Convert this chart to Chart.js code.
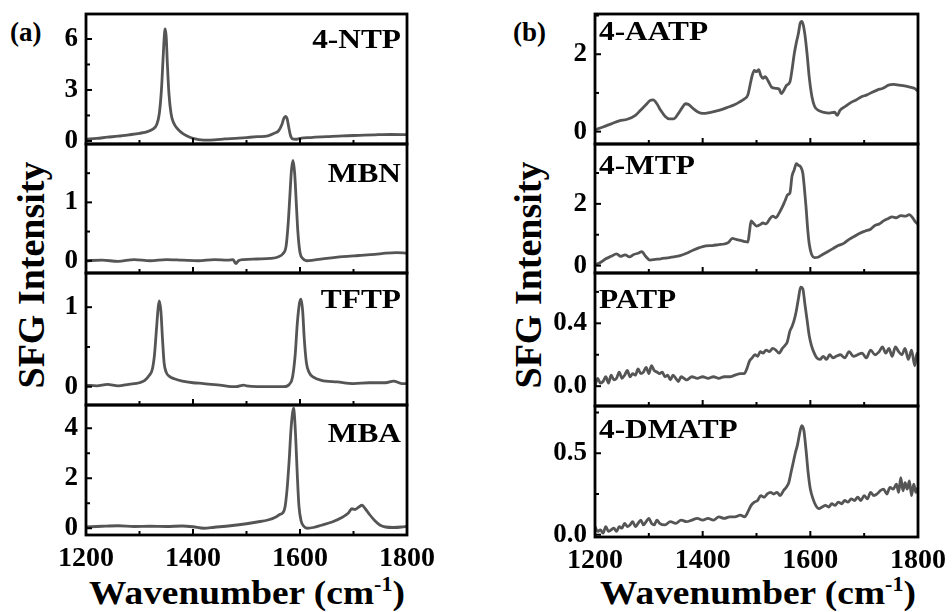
<!DOCTYPE html>
<html>
<head>
<meta charset="utf-8">
<script src="https://cdn.jsdelivr.net/npm/chart.js@4.4.1/dist/chart.umd.min.js"></script>
<style>
  html, body { margin: 0; padding: 0; background: #fff; overflow: hidden; }
  body { width: 952px; height: 612px; position: relative; font-family: "Liberation Serif", "Times New Roman", serif; font-weight: bold; color: #000; }
  .panel { position: absolute; }
  .txt { position: absolute; white-space: nowrap; line-height: 1; }
  .ytitle { font-size: 38px; transform: translate(-50%, -50%) rotate(-90deg); }
  .xtitle { font-size: 34px; transform: translateX(-50%) scaleX(1.1); }
  .sup { font-size: 20px; position: relative; top: -13px; }
  .tag { font-size: 27px; }
</style>
</head>
<body>
<div class="txt tag" style="left:10px;top:19px">(a)</div>
<div class="txt tag" style="left:513px;top:19px">(b)</div>
<div class="txt ytitle" style="left:31px;top:275px">SFG Intensity</div>
<div class="txt ytitle" style="left:528px;top:275px">SFG Intensity</div>
<div class="txt xtitle" style="left:247px;top:576px">Wavenumber (cm<span class="sup">-1</span>)</div>
<div class="txt xtitle" style="left:758px;top:576px">Wavenumber (cm<span class="sup">-1</span>)</div>
<script>
// x axis (shared)
const wnTicks = [1200, 1400, 1600, 1800];
const wnTickText = ['1200', '1400', '1600', '1800'];
const wnMinor = [1300, 1500, 1700];

// (a) column
const ntpX = [1200,1220,1240,1260,1280,1300,1315,1325,1332,1337,1341,1344,1346,1348,1350,1352,1355,1359,1364,1370,1378,1388,1400,1420,1440,1460,1480,1500,1520,1540,1552,1560,1566,1570,1573,1576,1579,1582,1586,1592,1600,1620,1650,1680,1710,1740,1770,1800];
const ntpY = [0.10,0.15,0.22,0.28,0.36,0.45,0.55,0.70,0.95,1.6,3.0,4.8,6.0,6.6,6.1,4.6,2.8,1.6,1.05,0.75,0.5,0.3,0.15,0.05,0.06,0.12,0.15,0.2,0.25,0.3,0.45,0.6,0.95,1.35,1.45,1.3,0.8,0.35,0.12,0.10,0.15,0.2,0.25,0.3,0.33,0.36,0.38,0.37];
const ntpTicks = [0, 3, 6];
const ntpTickText = ['0', '3', '6'];
const ntpMinor = [1.5, 4.5];

const mbnX = [1200,1230,1260,1290,1320,1350,1380,1410,1440,1465,1475,1480,1485,1495,1520,1545,1560,1568,1574,1578,1581,1584,1587,1590,1593,1596,1600,1605,1612,1625,1650,1680,1710,1740,1760,1780,1800];
const mbnY = [0.0,0.01,-0.01,0.02,0.0,0.02,0.01,0.0,0.02,0.01,0.02,-0.05,0.0,0.02,0.03,0.04,0.07,0.12,0.25,0.65,1.1,1.55,1.72,1.5,1.0,0.5,0.14,0.04,0.0,0.01,0.04,0.07,0.09,0.11,0.13,0.14,0.13];
const mbnTicks = [0, 1];
const mbnTickText = ['0', '1'];
const mbnMinor = [0.5, 1.5];

const tftpX = [1200,1220,1240,1260,1280,1300,1310,1318,1324,1328,1332,1335,1337,1340,1343,1346,1350,1356,1365,1380,1400,1420,1450,1480,1495,1500,1520,1550,1570,1580,1586,1591,1595,1599,1602,1605,1608,1612,1617,1625,1640,1670,1700,1730,1760,1775,1790,1800];
const tftpY = [0.02,0.01,0.03,0.01,0.03,0.05,0.08,0.14,0.22,0.4,0.75,1.0,1.08,0.95,0.6,0.3,0.18,0.13,0.1,0.07,0.05,0.04,0.02,0.0,0.02,0.01,0.0,0.0,0.0,0.03,0.12,0.4,0.8,1.05,1.1,0.95,0.6,0.3,0.18,0.12,0.08,0.06,0.04,0.05,0.05,0.07,0.04,0.04];
const tftpTicks = [0, 1];
const tftpTickText = ['0', '1'];
const tftpMinor = [0.5];

const mbaX = [1200,1230,1260,1290,1320,1350,1380,1400,1420,1440,1470,1500,1520,1540,1555,1562,1568,1572,1576,1580,1583,1586,1588,1590,1592,1595,1598,1602,1607,1614,1625,1640,1660,1680,1690,1697,1703,1710,1716,1722,1730,1740,1750,1760,1775,1790,1800];
const mbaY = [0.05,0.08,0.1,0.07,0.08,0.07,0.09,0.06,0.0,0.04,0.1,0.18,0.25,0.33,0.45,0.55,0.62,0.85,1.6,2.8,3.9,4.6,4.8,4.4,3.6,2.1,0.9,0.3,0.08,0.0,0.03,0.12,0.25,0.45,0.6,0.78,0.75,0.85,0.92,0.78,0.55,0.3,0.12,0.05,0.03,0.05,0.08];
const mbaTicks = [0, 2, 4];
const mbaTickText = ['0', '2', '4'];
const mbaMinor = [1, 3];

// (b) column
const aatpX = [1200,1215,1230,1245,1260,1275,1285,1295,1302,1308,1315,1322,1330,1338,1346,1354,1362,1368,1374,1382,1392,1400,1415,1430,1445,1460,1470,1478,1484,1488,1492,1496,1500,1504,1508,1512,1516,1522,1528,1535,1542,1546,1550,1556,1562,1566,1570,1574,1578,1581,1584,1587,1590,1594,1598,1603,1608,1615,1625,1635,1645,1650,1655,1665,1675,1685,1695,1705,1715,1725,1735,1745,1755,1765,1775,1785,1793,1800];
const aatpY = [0.05,0.12,0.2,0.28,0.32,0.42,0.56,0.7,0.8,0.82,0.72,0.55,0.4,0.33,0.33,0.45,0.62,0.72,0.7,0.6,0.5,0.47,0.5,0.55,0.62,0.7,0.78,0.85,0.95,1.2,1.45,1.58,1.55,1.6,1.45,1.38,1.42,1.3,1.15,1.12,1.1,0.98,1.05,1.2,1.28,1.6,2.0,2.3,2.55,2.8,2.85,2.75,2.5,2.0,1.4,0.9,0.65,0.55,0.5,0.48,0.5,0.42,0.55,0.65,0.75,0.82,0.9,0.95,1.02,1.08,1.12,1.2,1.22,1.2,1.18,1.15,1.12,1.05];
const aatpTicks = [0, 2];
const aatpTickText = ['0', '2'];
const aatpMinor = [1, 3];

const mtpX = [1200,1210,1220,1230,1240,1248,1256,1264,1272,1280,1287,1294,1302,1312,1322,1334,1346,1358,1370,1382,1394,1406,1418,1430,1440,1448,1455,1462,1470,1478,1484,1487,1490,1494,1500,1506,1512,1518,1524,1530,1536,1542,1548,1553,1558,1562,1566,1570,1574,1578,1582,1586,1589,1592,1595,1598,1602,1608,1614,1622,1632,1642,1652,1662,1672,1682,1692,1702,1712,1720,1728,1736,1744,1752,1760,1768,1776,1784,1790,1796,1800];
const mtpY = [0.03,0.1,0.22,0.3,0.38,0.3,0.35,0.28,0.36,0.4,0.45,0.3,0.18,0.2,0.22,0.25,0.28,0.32,0.4,0.5,0.58,0.64,0.65,0.68,0.7,0.75,0.88,0.85,0.82,0.78,0.76,1.1,1.45,1.38,1.28,1.32,1.38,1.35,1.5,1.6,1.55,1.7,1.9,2.1,2.3,2.35,2.9,3.1,3.3,3.25,3.2,3.0,2.5,1.9,1.2,0.7,0.38,0.26,0.27,0.35,0.45,0.55,0.65,0.72,0.85,0.95,1.05,1.12,1.18,1.3,1.35,1.45,1.52,1.58,1.55,1.62,1.6,1.65,1.55,1.4,1.35];
const mtpTicks = [0, 2];
const mtpTickText = ['0', '2'];
const mtpMinor = [1, 3];

const patpX = [1200,1205,1210,1215,1220,1225,1230,1235,1240,1245,1250,1255,1260,1265,1270,1275,1280,1285,1290,1295,1300,1305,1310,1315,1320,1325,1330,1335,1340,1345,1350,1355,1360,1365,1370,1380,1390,1400,1410,1420,1430,1440,1450,1460,1470,1477,1482,1487,1492,1497,1502,1507,1512,1518,1524,1530,1536,1542,1548,1553,1557,1562,1566,1570,1574,1578,1582,1586,1590,1594,1598,1602,1606,1612,1618,1624,1630,1636,1642,1648,1656,1664,1672,1680,1688,1696,1704,1712,1720,1728,1734,1740,1746,1752,1758,1764,1770,1776,1782,1788,1794,1798,1800];
const patpY = [0.0,0.05,0.02,0.03,0.06,0.02,0.07,0.04,0.05,0.09,0.05,0.07,0.1,0.06,0.08,0.07,0.11,0.08,0.09,0.12,0.08,0.13,0.1,0.09,0.08,0.09,0.06,0.07,0.04,0.07,0.05,0.03,0.06,0.05,0.04,0.06,0.05,0.06,0.05,0.06,0.05,0.06,0.06,0.07,0.08,0.08,0.11,0.16,0.18,0.2,0.19,0.22,0.21,0.23,0.22,0.24,0.23,0.21,0.24,0.26,0.28,0.35,0.38,0.42,0.48,0.56,0.63,0.62,0.52,0.42,0.32,0.26,0.22,0.18,0.17,0.19,0.17,0.2,0.18,0.19,0.2,0.18,0.22,0.19,0.2,0.21,0.18,0.23,0.2,0.22,0.25,0.21,0.24,0.19,0.25,0.22,0.2,0.24,0.17,0.23,0.13,0.21,0.16];
const patpTicks = [0, 0.4];
const patpTickText = ['0.0', '0.4'];
const patpMinor = [0.2, 0.6];

const dmatpX = [1200,1205,1210,1215,1220,1225,1230,1235,1240,1245,1250,1255,1260,1265,1270,1275,1280,1285,1290,1295,1300,1305,1310,1315,1320,1330,1340,1350,1360,1370,1380,1390,1400,1410,1420,1430,1440,1450,1460,1470,1478,1484,1490,1496,1502,1508,1514,1520,1526,1532,1538,1544,1550,1555,1560,1564,1568,1572,1576,1580,1584,1588,1592,1596,1600,1605,1610,1616,1622,1628,1634,1640,1646,1652,1658,1664,1670,1676,1682,1688,1694,1700,1706,1712,1718,1724,1730,1736,1742,1748,1754,1760,1764,1768,1772,1776,1780,1784,1788,1792,1796,1800];
const dmatpY = [0.05,0.02,0.03,0.01,0.05,0.02,0.03,0.04,0.02,0.05,0.04,0.07,0.05,0.06,0.08,0.05,0.07,0.09,0.06,0.08,0.1,0.07,0.06,0.09,0.07,0.06,0.08,0.07,0.09,0.08,0.09,0.1,0.09,0.1,0.09,0.11,0.1,0.11,0.11,0.12,0.11,0.14,0.18,0.2,0.21,0.24,0.23,0.25,0.26,0.25,0.26,0.24,0.27,0.29,0.32,0.38,0.44,0.5,0.55,0.62,0.67,0.64,0.52,0.38,0.28,0.22,0.18,0.16,0.17,0.18,0.17,0.19,0.18,0.2,0.19,0.21,0.2,0.22,0.21,0.23,0.21,0.24,0.22,0.26,0.24,0.25,0.27,0.28,0.25,0.29,0.28,0.31,0.26,0.35,0.27,0.32,0.28,0.33,0.24,0.31,0.26,0.29];
const dmatpTicks = [0, 0.5];
const dmatpTickText = ['0.0', '0.5'];
const dmatpMinor = [0.25, 0.75];

// frame geometry
const colLeft = [86, 595];
const colRight = [407, 918];
const rowEdges = [[14, 144, 273, 405, 535], [14, 144, 273, 406, 537]];
const FONT = '"Liberation Serif", "Times New Roman", serif';

const panels = [
  { col: 0, row: 0, name: '4-NTP', xs: ntpX, ys: ntpY, min: -0.18, max: 7.47, ticks: ntpTicks, text: ntpTickText, minor: ntpMinor, right: true, dy: 34 },
  { col: 0, row: 1, name: 'MBN', xs: mbnX, ys: mbnY, min: -0.21, max: 2.0, ticks: mbnTicks, text: mbnTickText, minor: mbnMinor, right: true, dy: 38 },
  { col: 0, row: 2, name: 'TFTP', xs: tftpX, ys: tftpY, min: -0.23, max: 1.43, ticks: tftpTicks, text: tftpTickText, minor: tftpMinor, right: true, dy: 35 },
  { col: 0, row: 3, name: 'MBA', xs: mbaX, ys: mbaY, min: -0.27, max: 4.93, ticks: mbaTicks, text: mbaTickText, minor: mbaMinor, right: true, dy: 37 },
  { col: 1, row: 0, name: '4-AATP', xs: aatpX, ys: aatpY, min: -0.32, max: 3.04, ticks: aatpTicks, text: aatpTickText, minor: aatpMinor, right: false, dy: 26 },
  { col: 1, row: 1, name: '4-MTP', xs: mtpX, ys: mtpY, min: -0.24, max: 3.94, ticks: mtpTicks, text: mtpTickText, minor: mtpMinor, right: false, dy: 30 },
  { col: 1, row: 2, name: 'PATP', xs: patpX, ys: patpY, min: -0.126, max: 0.72, ticks: patpTicks, text: patpTickText, minor: patpMinor, right: false, dy: 35 },
  { col: 1, row: 3, name: '4-DMATP', xs: dmatpX, ys: dmatpY, min: -0.014, max: 0.79, ticks: dmatpTicks, text: dmatpTickText, minor: dmatpMinor, right: false, dy: 32 }
];

// box + inward ticks + panel name
const framePlugin = {
  id: 'frame',
  afterDraw(chart, args, opts) {
    const { ctx, chartArea: a, scales: { x, y } } = chart;
    ctx.save();
    ctx.strokeStyle = '#000';
    ctx.lineWidth = 2;
    const seg = (x1, y1, x2, y2) => { ctx.beginPath(); ctx.moveTo(x1, y1); ctx.lineTo(x2, y2); ctx.stroke(); };
    wnTicks.forEach(v => { const px = x.getPixelForValue(v); seg(px, a.bottom, px, a.bottom - 6); });
    wnMinor.forEach(v => { const px = x.getPixelForValue(v); seg(px, a.bottom, px, a.bottom - 4); });
    opts.major.forEach(v => { const py = y.getPixelForValue(v); seg(a.left, py, a.left + 6, py); });
    opts.minor.forEach(v => { const py = y.getPixelForValue(v); if (py > a.top) seg(a.left, py, a.left + 4, py); });
    ctx.lineWidth = 2.8;
    ctx.strokeRect(a.left, a.top, a.right - a.left, a.bottom - a.top);
    ctx.fillStyle = '#000';
    ctx.font = 'bold 28px ' + FONT;
    ctx.textBaseline = 'alphabetic';
    const w = ctx.measureText(opts.name).width * 1.12;
    const tx = opts.right ? a.right - 6 - w : a.left + 4;
    ctx.translate(tx, a.top + opts.dy);
    ctx.scale(1.12, 1);
    ctx.textAlign = 'left';
    ctx.fillText(opts.name, 0, 0);
    ctx.restore();
  }
};

const YW = 80, PAD_T = 30, PAD_B = 30, PAD_R = 40, XH = 46;

panels.forEach(p => {
  const left = colLeft[p.col], right = colRight[p.col];
  const top = rowEdges[p.col][p.row], bottom = rowEdges[p.col][p.row + 1];
  const last = p.row === 3;

  const box = document.createElement('div');
  box.className = 'panel';
  box.style.left = (left - YW) + 'px';
  box.style.top = (top - PAD_T) + 'px';
  box.style.width = (YW + right - left + PAD_R) + 'px';
  box.style.height = (PAD_T + bottom - top + (last ? XH : PAD_B)) + 'px';
  const cv = document.createElement('canvas');
  box.appendChild(cv);
  document.body.appendChild(box);

  new Chart(cv, {
    type: 'line',
    data: {
      datasets: [{
        data: p.xs.map((v, k) => ({ x: v, y: p.ys[k] })),
        borderColor: '#555555',
        borderWidth: 2.8,
        pointRadius: 0,
        cubicInterpolationMode: 'monotone',
        fill: false
      }]
    },
    options: {
      responsive: true,
      maintainAspectRatio: false,
      animation: false,
      events: [],
      layout: { padding: { top: PAD_T, right: PAD_R, bottom: last ? 0 : PAD_B, left: 0 } },
      plugins: {
        legend: { display: false },
        tooltip: { enabled: false },
        frame: { major: p.ticks, minor: p.minor, name: p.name, right: p.right, dy: p.dy }
      },
      scales: {
        x: {
          type: 'linear', min: 1200, max: 1800, display: last,
          grid: { display: false, drawTicks: false },
          border: { display: false },
          afterBuildTicks: s => { s.ticks = wnTicks.map(v => ({ value: v })); },
          afterFit: s => { s.height = last ? XH : 0; s.paddingLeft = 0; s.paddingRight = 0; },
          ticks: {
            autoSkip: false, maxRotation: 0, padding: 7, color: '#000',
            font: { family: FONT, size: 28, weight: 'bold' },
            callback: v => wnTickText[wnTicks.indexOf(v)]
          }
        },
        y: {
          type: 'linear', min: p.min, max: p.max,
          grid: { display: false, drawTicks: false },
          border: { display: false },
          afterBuildTicks: s => { s.ticks = p.ticks.map(v => ({ value: v })); },
          afterFit: s => { s.width = YW; s.paddingTop = 0; s.paddingBottom = 0; },
          ticks: {
            padding: 8, color: '#000',
            font: { family: FONT, size: 27, weight: 'bold' },
            callback: v => p.text[p.ticks.indexOf(v)]
          }
        }
      }
    },
    plugins: [framePlugin]
  });
});
</script>
</body>
</html>
